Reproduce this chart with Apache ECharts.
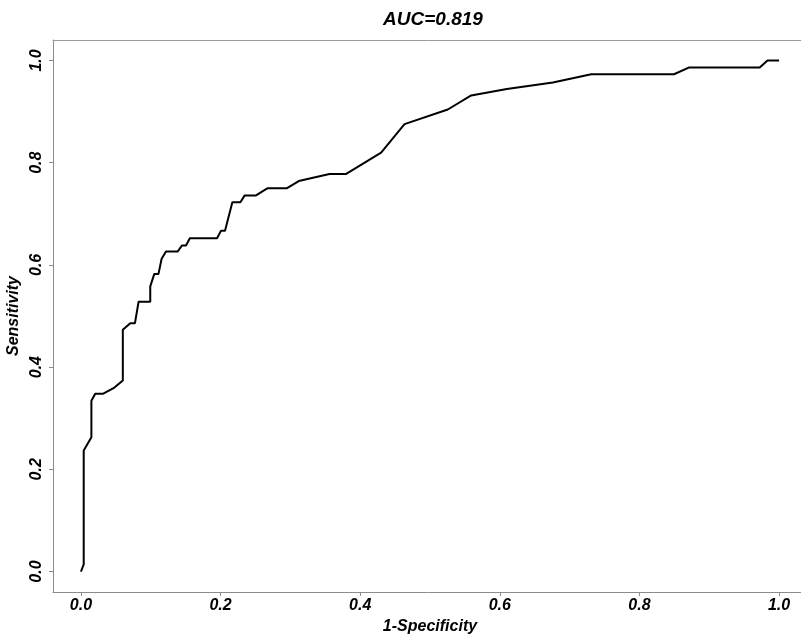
<!DOCTYPE html>
<html>
<head>
<meta charset="utf-8">
<script src="https://cdn.jsdelivr.net/npm/echarts@6/dist/echarts.min.js"></script>
<style>
html,body{margin:0;padding:0;background:#fff;}
#chart{width:801px;height:637px;}
</style>
</head>
<body>
<div id="chart"></div>
<script>
// 1-Specificity (false positive rate)
var fpr = [0, 0.004, 0.004, 0.015, 0.015, 0.0205, 0.032, 0.048, 0.060, 0.060, 0.0707, 0.0774, 0.0826, 0.0993, 0.0993, 0.105, 0.111, 0.1156, 0.1218, 0.1385, 0.1447, 0.1505, 0.156, 0.195, 0.2007, 0.2064, 0.2169, 0.2284, 0.2346, 0.2508, 0.2675, 0.2953, 0.312, 0.356, 0.380, 0.430, 0.4635, 0.5255, 0.559, 0.61, 0.676, 0.731, 0.8495, 0.8706, 0.9723, 0.9834, 1.0];
// Sensitivity (true positive rate)
var tpr = [0, 0.014, 0.237, 0.263, 0.334, 0.348, 0.348, 0.360, 0.374, 0.473, 0.486, 0.486, 0.528, 0.528, 0.558, 0.582, 0.582, 0.612, 0.626, 0.626, 0.638, 0.638, 0.652, 0.652, 0.667, 0.667, 0.7225, 0.7225, 0.736, 0.736, 0.750, 0.750, 0.764, 0.778, 0.778, 0.8195, 0.8755, 0.904, 0.9316, 0.944, 0.957, 0.973, 0.973, 0.986, 0.986, 1.0, 1.0];
var tickValues = [0, 0.2, 0.4, 0.6, 0.8, 1.0];
var titleText = 'AUC=0.819';
var xName = '1-Specificity';
var yName = 'Sensitivity';

var pts = fpr.map(function (x, i) { return [x, tpr[i]]; });
var font = '"Liberation Sans", Arial, Helvetica, sans-serif';
var chart = echarts.init(document.getElementById('chart'), null, {renderer: 'canvas'});
var axisCommon = {
  type: 'value',
  min: -0.04,
  max: 1.04,
  splitLine: {show: false},
  axisLine: {show: true, onZero: false, lineStyle: {color: '#8c8c8c', width: 1}},
  axisTick: {show: true, length: 4, lineStyle: {color: '#8c8c8c'},
    customValues: tickValues},
  axisLabel: {show: true, customValues: tickValues, color: '#000', fontSize: 16,
    fontWeight: 'bold', fontStyle: 'italic', fontFamily: font,
    formatter: function (v) { return v.toFixed(1); }},
  nameLocation: 'middle',
  nameTextStyle: {color: '#000', fontSize: 16, fontWeight: 'bold', fontStyle: 'italic', fontFamily: font}
};
chart.setOption({
  animation: false,
  backgroundColor: '#fff',
  title: {
    text: titleText, left: 428, top: 5, textAlign: 'center',
    textStyle: {fontSize: 19, fontWeight: 'bold', fontStyle: 'italic', fontFamily: font, color: '#000'}
  },
  grid: {left: 53, top: 40, width: 754, height: 552, show: false,
    containLabel: false, outerBoundsMode: 'none'},
  xAxis: [
    Object.assign({}, axisCommon, {
      name: xName, nameGap: 23, position: 'bottom',
      axisLabel: Object.assign({}, axisCommon.axisLabel, {margin: 6})
    }),
    {
      type: 'value', position: 'top', min: -0.04, max: 1.04,
      axisLine: {show: true, onZero: false, lineStyle: {color: '#9a9a9a', width: 1}},
      axisTick: {show: false}, axisLabel: {show: false}, splitLine: {show: false}
    }
  ],
  yAxis: Object.assign({}, axisCommon, {
    name: yName, nameGap: 27, nameRotate: 90,
    axisLabel: Object.assign({}, axisCommon.axisLabel, {rotate: 90, margin: 8})
  }),
  series: [{
    type: 'line',
    xAxisIndex: 0,
    data: pts,
    showSymbol: false,
    lineStyle: {color: '#000', width: 2},
    clip: false
  }]
});
</script>
</body>
</html>
